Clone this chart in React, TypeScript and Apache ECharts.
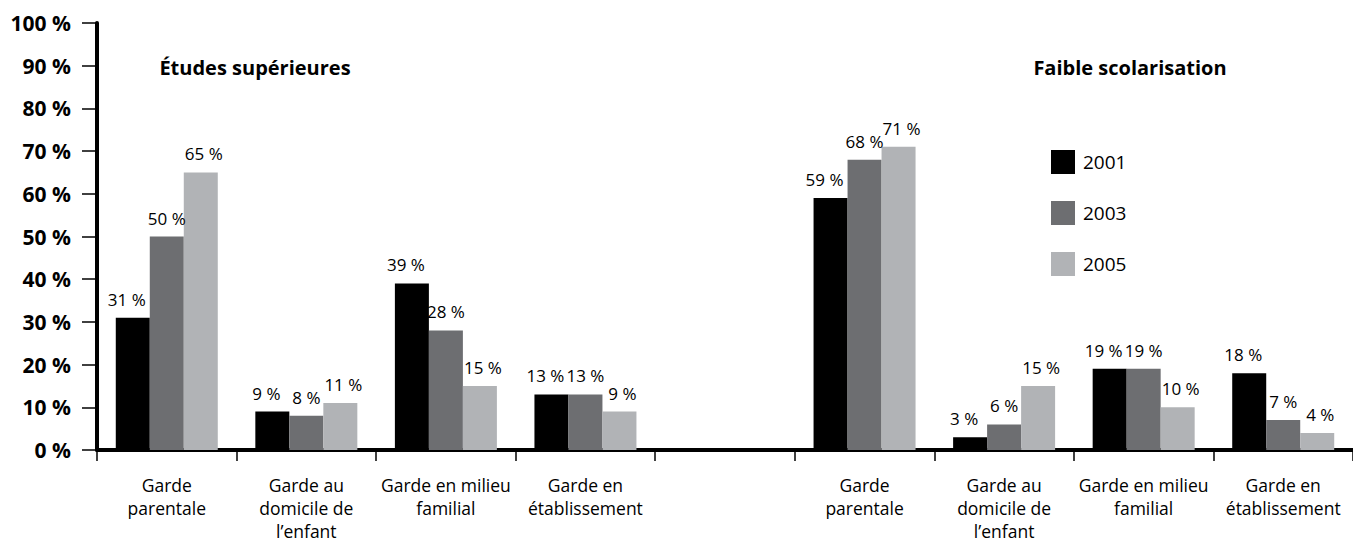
import React, { useEffect, useRef } from "react";
import * as echarts from "echarts";

const categories = [
  "Garde\nparentale",
  "Garde au\ndomicile de\nl\u2019enfant",
  "Garde en milieu\nfamilial",
  "Garde en\nétablissement",
  "",
  "Garde\nparentale",
  "Garde au\ndomicile de\nl\u2019enfant",
  "Garde en milieu\nfamilial",
  "Garde en\nétablissement",
];

const years = ["2001", "2003", "2005"];
const values2001 = [31, 9, 39, 13, null, 59, 3, 19, 18];
const values2003 = [50, 8, 28, 13, null, 68, 6, 19, 7];
const values2005 = [65, 11, 15, 9, null, 71, 15, 10, 4];
const colors = ["#000000", "#6d6e71", "#b1b3b6"];
const yTicks = [0, 10, 20, 30, 40, 50, 60, 70, 80, 90, 100];
const groupTitles = ["Études supérieures", "Faible scolarisation"];

const FONT = "'Open Sans', sans-serif";
const labelShift = [-6, 0, 3];

export default function App() {
  const ref = useRef<HTMLDivElement>(null);
  useEffect(() => {
    if (!ref.current) return;
    const chart = echarts.init(ref.current, null, { renderer: "svg" });
    const seriesData = [values2001, values2003, values2005];
    const titleStyle = {
      fontSize: 20,
      fontWeight: "bold",
      fontFamily: FONT,
      fill: "#000",
      textAlign: "center",
      textVerticalAlign: "middle",
    };
    chart.setOption({
      animation: false,
      backgroundColor: "#ffffff",
      textStyle: { fontFamily: FONT },
      grid: { left: 97, right: 0, top: 23, bottom: 91, containLabel: false },
      legend: {
        orient: "vertical",
        left: 1046,
        top: 145,
        itemWidth: 24,
        itemHeight: 24,
        itemGap: 27,
        icon: "rect",
        data: years,
        textStyle: { fontSize: 19, color: "#000", fontFamily: FONT, padding: [0, 0, 0, 3] },
      },
      graphic: [
        { type: "text", x: 255, y: 67, style: { ...titleStyle, text: groupTitles[0] } },
        { type: "text", x: 1130, y: 67, style: { ...titleStyle, text: groupTitles[1] } },
      ],
      xAxis: {
        type: "category",
        data: categories,
        boundaryGap: true,
        axisLine: { show: true, lineStyle: { color: "#000", width: 4 } },
        axisTick: { show: true, length: 11, interval: 0, alignWithLabel: false, lineStyle: { color: "#000", width: 1.5 } },
        axisLabel: {
          interval: 0,
          margin: 23,
          fontSize: 17.5,
          lineHeight: 23,
          color: "#000",
          fontFamily: FONT,
          align: "center",
        },
        splitLine: { show: false },
      },
      yAxis: {
        type: "value",
        min: yTicks[0],
        max: yTicks[yTicks.length - 1],
        interval: 10,
        axisLine: { show: true, lineStyle: { color: "#000", width: 4 } },
        axisTick: { show: true, length: 15, lineStyle: { color: "#000", width: 1.5 } },
        axisLabel: {
          margin: 26,
          fontSize: 21,
          fontWeight: "bold",
          color: "#000",
          fontFamily: FONT,
          formatter: (v: number) => `${v} %`,
        },
        splitLine: { show: false },
      },
      series: years.map((y, i) => ({
        name: y,
        type: "bar",
        data: seriesData[i],
        barWidth: 34,
        barGap: "0%",
        itemStyle: { color: colors[i] },
        label: {
          show: true,
          position: "top",
          distance: 10,
          offset: [labelShift[i], 0],
          fontSize: 17,
          color: "#000",
          fontFamily: FONT,
          formatter: (p: any) => (p.value == null ? "" : `${p.value} %`),
        },
      })),
    });
    return () => chart.dispose();
  }, []);
  return (
    <div
      ref={ref}
      style={{ position: "fixed", left: 0, top: 0, width: 1353, height: 542, background: "#fff" }}
    />
  );
}
